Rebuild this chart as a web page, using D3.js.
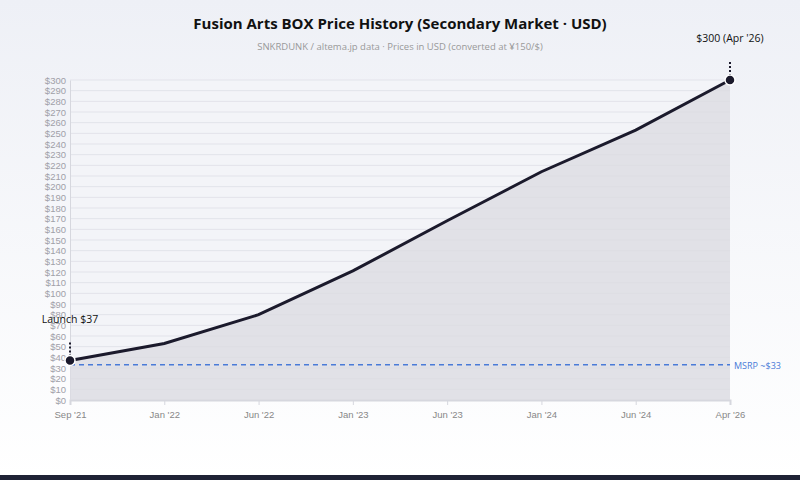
<!DOCTYPE html>
<html><head><meta charset="utf-8">
<script src="https://cdn.jsdelivr.net/npm/d3@7"></script>
<style>body{margin:0;background:#fff;font-family:"Open Sans",sans-serif}</style>
</head><body>
<svg id="c" width="800" height="480"></svg>
<script>
// data
var labels = ["Sep '21","Jan '22","Jun '22","Jan '23","Jun '23","Jan '24","Jun '24","Apr '26"];
var prices = [37, 53, 80, 121, 168, 214, 253, 300];
var msrp = 33;
var yTicks = d3.range(0, 301, 10);

var svg = d3.select('#c');
var defs = svg.append('defs');
var bg = defs.append('linearGradient').attr('id','bg').attr('x1',0).attr('y1',0).attr('x2',0).attr('y2',1);
bg.append('stop').attr('offset','0%').attr('stop-color','#eef0f6');
bg.append('stop').attr('offset','100%').attr('stop-color','#ffffff');
svg.append('rect').attr('width',800).attr('height',480).attr('fill','url(#bg)');
svg.append('rect').attr('y',475).attr('width',800).attr('height',5).attr('fill','#1e2235');

var x = d3.scalePoint().domain(labels).range([70, 730]);
var y = d3.scaleLinear().domain([0, 300]).range([400, 80]);

svg.append('rect').attr('x',70).attr('y',80).attr('width',660).attr('height',320).attr('fill','#f3f4f8');

svg.append('g').selectAll('line').data(yTicks).enter().append('line')
  .attr('x1',70).attr('x2',730).attr('y1',d=>y(d)).attr('y2',d=>y(d))
  .attr('stroke','#e2e3ea').attr('stroke-width',1);

var yAxis = svg.append('g').attr('transform','translate(70,0)')
  .call(d3.axisLeft(y).tickValues(yTicks).tickFormat(d=>'$'+d).tickSize(0).tickPadding(4));
yAxis.select('.domain').attr('stroke','#d6d7de');
yAxis.selectAll('text').attr('fill','#a0a0a8').style('font-size','9.5px');

var xAxis = svg.append('g').attr('transform','translate(0,400)')
  .call(d3.axisBottom(x).tickSize(5).tickPadding(6));
xAxis.select('.domain').attr('stroke','#d6d7de').attr('stroke-width',2);
xAxis.selectAll('line').attr('stroke','#d6d7de');
xAxis.selectAll('text').attr('fill','#888').style('font-size','9.5px');

svg.append('path').datum(prices)
  .attr('d', d3.area().x((d,i)=>x(labels[i])).y0(y(0)).y1(d=>y(d)))
  .attr('fill','#dcdce2').attr('opacity',0.8);

svg.append('line').attr('x1',70).attr('x2',730).attr('y1',y(msrp)).attr('y2',y(msrp))
  .attr('stroke','#4a7bd8').attr('stroke-width',1.5).attr('stroke-dasharray','5,4');
svg.append('text').attr('x',734).attr('y',y(msrp)+4).text('MSRP ~$' + msrp)
  .attr('fill','#4a7bd8').style('font-size','9px');

svg.append('path').datum(prices)
  .attr('d', d3.line().x((d,i)=>x(labels[i])).y(d=>y(d)))
  .attr('fill','none').attr('stroke','#1b1a2c').attr('stroke-width',3);

var ends = [0, prices.length-1];
ends.forEach(function(i){
  var cx = x(labels[i]), cy = y(prices[i]);
  svg.append('line').attr('x1',cx).attr('x2',cx).attr('y1',cy-4).attr('y2',cy-18)
    .attr('stroke','#1b1a2c').attr('stroke-width',2).attr('stroke-dasharray','2,2');
  svg.append('circle').attr('cx',cx).attr('cy',cy).attr('r',5)
    .attr('fill','#1b1a2c').attr('stroke','#fff').attr('stroke-width',1.5);
});
svg.append('text').attr('x',x(labels[0])).attr('y',y(prices[0])-38).attr('text-anchor','middle')
  .text('Launch $' + prices[0]).style('font-size','10.5px').attr('fill','#111');
svg.append('text').attr('x',x(labels[7])).attr('y',y(prices[7])-38).attr('text-anchor','middle')
  .text('$' + prices[7] + " (Apr '26)").style('font-size','10.5px').attr('fill','#111');

svg.append('text').attr('x',400).attr('y',29).attr('text-anchor','middle')
  .text('Fusion Arts BOX Price History (Secondary Market · USD)')
  .style('font-size','15px').style('font-weight','bold').attr('fill','#111');
svg.append('text').attr('x',400).attr('y',50).attr('text-anchor','middle')
  .text('SNKRDUNK / altema.jp data · Prices in USD (converted at ¥150/$)')
  .style('font-size','9.5px').attr('fill','#999');
</script>
</body></html>
